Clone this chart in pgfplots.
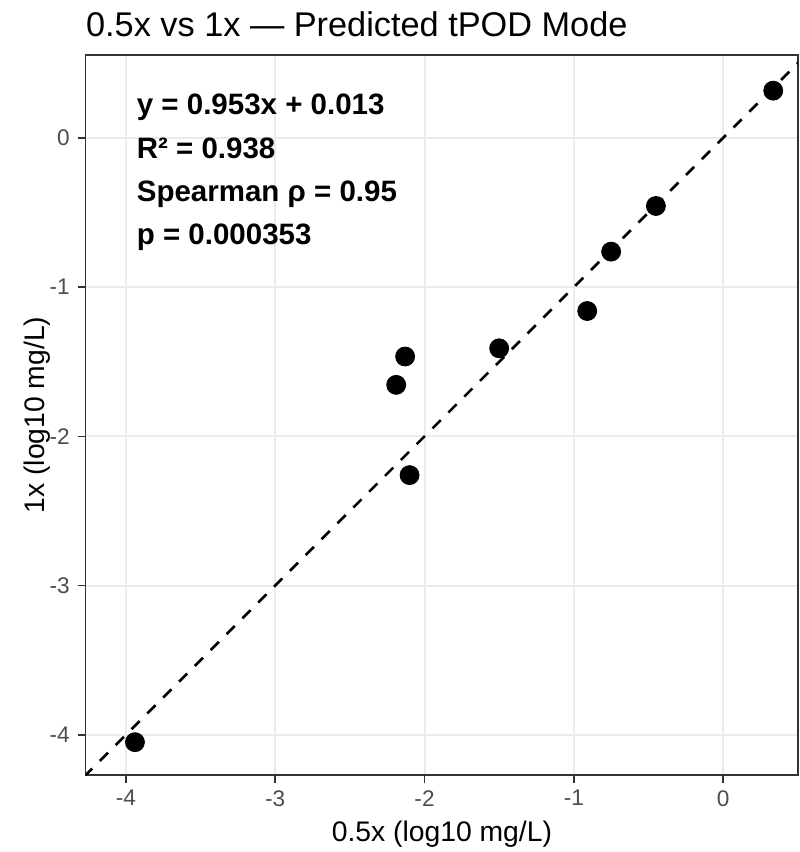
\documentclass[border=0pt]{standalone}
\usepackage{pgfplots}
\pgfplotsset{compat=1.18}
\usepackage{fontspec}
\setmainfont{Liberation Sans}
\definecolor{gridgray}{HTML}{EBEBEB}
\definecolor{framegray}{HTML}{333333}
\definecolor{tickgray}{HTML}{4D4D4D}
\begin{document}
\begin{tikzpicture}
\begin{axis}[
  scale only axis, width=356.15pt, height=360pt,
  at={(0,0)}, anchor=south west,
  xmin=-4.27, xmax=0.502, ymin=-4.27, ymax=0.556,
  xtick={-4,-3,-2,-1,0}, ytick={-4,-3,-2,-1,0},
  xticklabels={-4,-3,-2,-1,0}, yticklabels={-4,-3,-2,-1,0},
  tick align=outside, tick pos=left, major tick length=4pt,
  tick style={framegray, line width=0.8pt},
  axis line style={framegray, line width=0.7pt},
  grid=major, major grid style={gridgray, line width=1pt},
  ticklabel style={font=\fontsize{11.3}{13}\selectfont, text=tickgray, inner sep=0pt},
  xticklabel style={anchor=north, yshift=-3.5pt},
  yticklabel style={anchor=east, xshift=-3.85pt},
]
\addplot[black, line width=1.3pt, dash pattern=on 5.8pt off 5.4pt]
  coordinates {(-4.6,-4.6)(1,1)};
\addplot[only marks, mark=*, mark size=4.75pt, black]
  coordinates {(-3.94,-4.05)(-2.19,-1.655)(-2.13,-1.465)(-2.10,-2.26)(-1.50,-1.41)
               (-0.91,-1.16)(-0.75,-0.762)(-0.45,-0.456)(0.336,0.317)};
\begin{scope}[every node/.style={anchor=base west, inner sep=0pt, font=\bfseries\fontsize{14.75}{17}\selectfont}]
\node at (axis cs:-3.93,0.154) {y = 0.953x + 0.013};
\node at (axis cs:-3.93,-0.141) {R² = 0.938};
\node at (axis cs:-3.93,-0.429) {Spearman ρ = 0.95};
\node at (axis cs:-3.93,-0.717) {p = 0.000353};
\end{scope}
\end{axis}
% titles and axis labels, placed against the panel (0,0)-(356.15pt,360pt)
\node[anchor=base, inner sep=0pt, font=\fontsize{14.15}{17}\selectfont] at (178.1pt,-33pt) {0.5x (log10 mg/L)};
\node[anchor=base, inner sep=0pt, rotate=90, font=\fontsize{14.15}{17}\selectfont] at (-20.35pt,180pt) {1x (log10 mg/L)};
\node[anchor=base west, inner sep=0pt, font=\fontsize{17.15}{20}\selectfont] at (0pt,369pt) {0.5x vs 1x — Predicted tPOD Mode};
\pgfresetboundingbox
\path[use as bounding box] (-42.85pt,-38.5pt) rectangle (356.65pt,387.5pt);
\end{tikzpicture}
\end{document}
